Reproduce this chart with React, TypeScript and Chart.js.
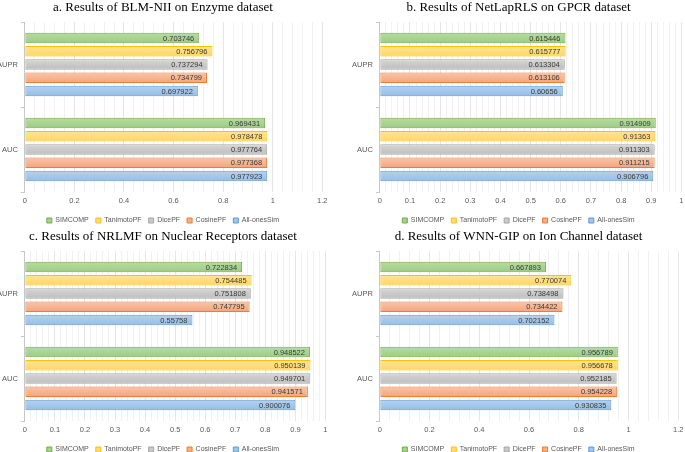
import React, { useEffect, useRef } from 'react';
import { Chart, registerables } from 'chart.js';

Chart.register(...registerables);

const categories = ['AUPR', 'AUC'];
const seriesNames = ['SIMCOMP', 'TanimotoPF', 'DicePF', 'CosinePF', 'All-onesSim'];

// values per series: [AUPR, AUC]
const enzymeValues = [
  [0.703746, 0.969431],
  [0.756796, 0.978478],
  [0.737294, 0.977764],
  [0.734799, 0.977368],
  [0.697922, 0.977923],
];
const gpcrValues = [
  [0.615446, 0.914909],
  [0.615777, 0.91363],
  [0.613304, 0.911303],
  [0.613106, 0.911215],
  [0.60656, 0.906796],
];
const nuclearValues = [
  [0.722834, 0.948522],
  [0.754485, 0.950139],
  [0.751808, 0.949701],
  [0.747795, 0.941571],
  [0.55758, 0.900076],
];
const ionValues = [
  [0.667893, 0.956789],
  [0.770074, 0.956678],
  [0.738498, 0.952185],
  [0.734422, 0.954228],
  [0.702152, 0.930835],
];

const titles = [
  'a. Results of BLM-NII on Enzyme dataset',
  'b. Results of NetLapRLS on GPCR dataset',
  'c. Results of NRLMF on Nuclear Receptors dataset',
  'd. Results of WNN-GIP on Ion Channel dataset',
];
const axisMax = [1.2, 1, 1, 1.2];
const majorStep = [0.2, 0.1, 0.1, 0.2];

const palette = [
  { top: '#b7dca4', bottom: '#9ccb82', border: '#70ad47', mid: '#a9d18e' },
  { top: '#ffe59a', bottom: '#ffd65e', border: '#ffc000', mid: '#ffdd7a' },
  { top: '#d6d6d6', bottom: '#bdbdbd', border: '#a5a5a5', mid: '#c9c9c9' },
  { top: '#f9c6a8', bottom: '#f2a47c', border: '#ed7d31', mid: '#f4b183' },
  { top: '#b6d2ef', bottom: '#95bde6', border: '#5b9bd5', mid: '#a4c6ea' },
];

const layouts = [
  { left: -6, top: 0, width: 338, height: 234 },
  { left: 349, top: 0, width: 339, height: 234 },
  { left: -6, top: 229, width: 338, height: 234 },
  { left: 349, top: 229, width: 339, height: 234 },
];

const SANS = '"Liberation Sans", Arial, sans-serif';
const FS = 7.5;
const LEGEND_FS = 7;

function isMajor(v: number, major: number) {
  const r = v / major;
  return Math.abs(r - Math.round(r)) < 1e-6;
}

function Panel({ idx, values }: { idx: number; values: number[][] }) {
  const ref = useRef<HTMLCanvasElement>(null);
  const lay = layouts[idx];
  useEffect(() => {
    if (!ref.current) return;
    const major = majorStep[idx];
    const minor = major / 5;
    const gradientPlugin = {
      id: 'gradFill',
      beforeDatasetsDraw(chart: any) {
        const ctx = chart.ctx;
        chart.data.datasets.forEach((ds: any, di: number) => {
          const meta = chart.getDatasetMeta(di);
          const col = palette[di];
          meta.data.forEach((el: any) => {
            const p = el.getProps(['y', 'height'], true);
            const y0 = p.y - p.height / 2;
            const y1 = p.y + p.height / 2;
            const g = ctx.createLinearGradient(0, y0, 0, y1);
            g.addColorStop(0, col.top);
            g.addColorStop(1, col.bottom);
            el.options.backgroundColor = g;
          });
        });
      },
    };
    const labelPlugin = {
      id: 'valueLabels',
      afterDatasetsDraw(chart: any) {
        const ctx = chart.ctx;
        ctx.save();
        ctx.font = FS + 'px ' + SANS;
        ctx.fillStyle = '#3a3a3a';
        ctx.textAlign = 'right';
        ctx.textBaseline = 'middle';
        chart.data.datasets.forEach((ds: any, di: number) => {
          const meta = chart.getDatasetMeta(di);
          meta.data.forEach((el: any, i: number) => {
            const p = el.getProps(['x', 'y'], true);
            ctx.fillText(String(ds.data[i]), p.x - 5, p.y + 0.5);
          });
        });
        ctx.restore();
      },
    };
    const chart = new Chart(ref.current, {
      type: 'bar',
      data: {
        labels: categories,
        datasets: seriesNames.map((name, si) => ({
          label: name,
          data: values[si],
          backgroundColor: () => palette[si].mid,
          borderColor: palette[si].border,
          borderWidth: 1,
          borderSkipped: false,
          categoryPercentage: 0.78,
          barPercentage: 0.8,
        })),
      },
      options: {
        indexAxis: 'y',
        responsive: false,
        animation: false,
        events: [],
        layout: { padding: 0 },
        scales: {
          x: {
            type: 'linear',
            min: 0,
            max: axisMax[idx],
            ticks: {
              stepSize: minor,
              autoSkip: false,
              maxRotation: 0,
              padding: 4.5,
              color: '#595959',
              font: { family: SANS, size: FS },
              callback: (v: any) => (isMajor(Number(v), major) ? String(Math.round(Number(v) * 10) / 10) : ''),
            },
            grid: {
              drawTicks: false,
              color: (c: any) => (isMajor(c.tick.value, major) ? '#e6e6e6' : '#f1f1f1'),
            },
            border: { display: false },
          },
          y: {
            type: 'category',
            ticks: { color: '#595959', font: { family: SANS, size: FS }, padding: 3 },
            grid: { drawOnChartArea: false, offset: true, tickLength: 4, color: '#c8c8c8' },
            border: { display: true, color: '#c8c8c8' },
          },
        },
        plugins: {
          title: {
            display: true,
            text: titles[idx],
            color: '#000',
            font: { family: '"Liberation Serif", "Times New Roman", serif', size: 13, weight: 'normal' },
            padding: { top: 0, bottom: 6.4 },
          },
          legend: {
            position: 'bottom',
            labels: {
              boxWidth: 5,
              boxHeight: 5,
              padding: 7,
              color: '#595959',
              font: { family: SANS, size: LEGEND_FS },
            },
          },
          tooltip: { enabled: false },
        },
      } as any,
      plugins: [gradientPlugin, labelPlugin],
    });
    return () => chart.destroy();
  }, [idx, values]);
  return (
    <div style={{ position: 'absolute', left: lay.left, top: lay.top, width: lay.width, height: lay.height }}>
      <canvas ref={ref} width={lay.width} height={lay.height} style={{ width: lay.width, height: lay.height, display: 'block' }} />
    </div>
  );
}

export default function App() {
  return (
    <div style={{ position: 'fixed', left: 0, top: 0, width: 685, height: 452, background: '#fff', overflow: 'hidden' }}>
      <Panel idx={0} values={enzymeValues} />
      <Panel idx={1} values={gpcrValues} />
      <Panel idx={2} values={nuclearValues} />
      <Panel idx={3} values={ionValues} />
    </div>
  );
}
